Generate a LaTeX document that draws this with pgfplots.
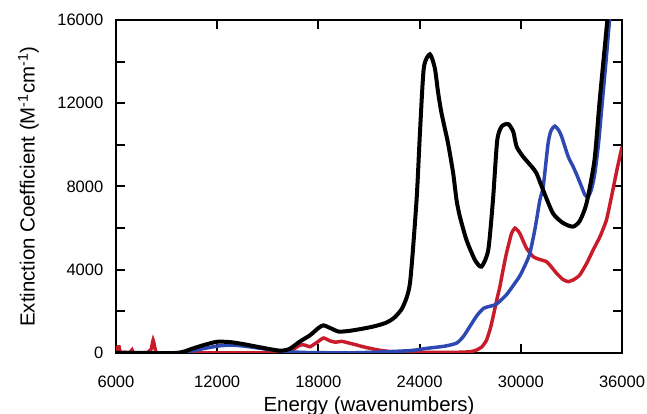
\documentclass[border=0pt]{standalone}
\usepackage{pgfplots}
\pgfplotsset{compat=1.18}
\usepackage{fontspec}
\setmainfont{Liberation Sans}
\definecolor{cblue}{RGB}{45,72,178}
\definecolor{cred}{RGB}{200,28,42}
\begin{document}
\begin{tikzpicture}[x=0.75pt,y=0.75pt]
\useasboundingbox (-116,-61) rectangle (531,353);
\begin{axis}[
  at={(0,0)}, anchor=south west,
  scale only axis, width=379.5pt, height=249.75pt,
  xmin=6000, xmax=36000, ymin=0, ymax=16000,
  xtick={6000,12000,...,36000},
  ytick={0,4000,...,16000},
  minor ytick={2000,6000,...,14000},
  scaled ticks=false,
  tick align=inside,
  major tick length=6.75pt, minor tick length=6.75pt,
  axis line style={line width=1.5pt},
  every tick/.style={line width=1.5pt, black},
  tick label style={font=\fontsize{12.4}{14}\selectfont},
  /pgf/number format/assume math mode=true,
  /pgf/number format/1000 sep={},
  xticklabel style={yshift=-14pt},
  yticklabel style={xshift=-6pt},
  label style={font=\fontsize{15.3}{18}\selectfont},
  xlabel={Energy (wavenumbers)},
  ylabel={Extinction Coefficient (M\textsuperscript{-1}cm\textsuperscript{-1})},
  xlabel style={at={(axis description cs:0.5,0)}, anchor=center, yshift=-40pt},
  ylabel style={at={(axis description cs:-0.173,0.5)}, anchor=center},
  clip=true,
]
% red
\addplot[cred, line width=2.6pt, smooth, tension=0.3] coordinates {
(6000,0)(6080,260)(6180,300)(6260,20)(6500,40)(6800,10)(6950,150)(7050,10)(7800,0)(8080,180)(8200,620)(8320,200)(8450,0)
(10000,0)(15500,10)(16000,40)(16400,120)(16900,380)(17200,380)(17500,300)(17900,500)(18300,720)(18700,580)(19000,520)(19400,560)(19700,500)(20200,400)(20650,300)(21200,200)(21650,130)(22400,60)(24000,30)(26000,30)(27000,60)(27400,150)(27700,300)(27970,620)(28200,1200)(28360,1750)(28560,2500)(28760,3190)(28950,4000)(29150,4790)(29450,5750)(29650,6000)(29800,5900)(29940,5750)(30340,5030)(30730,4630)(31100,4500)(31520,4390)(31800,4150)(32120,3830)(32500,3530)(32810,3430)(33150,3530)(33500,3750)(33900,4300)(34290,4950)(34700,5600)(35080,6400)(35400,7600)(35700,8800)(36000,9900)
};
% blue
\addplot[cblue, line width=2.6pt, smooth, tension=0.4] coordinates {
(6000,0)(9500,0)(10300,60)(11000,180)(12000,330)(12800,380)(13600,330)(14500,230)(15500,120)(16500,50)(17500,20)(20000,10)(22000,60)(23500,120)(24400,220)(25500,330)(26200,480)(26600,800)(27000,1300)(27400,1800)(27800,2150)(28200,2250)(28560,2350)(29150,2800)(29600,3300)(29940,3700)(30300,4300)(30540,4800)(30850,6000)(31130,7350)(31330,8000)(31620,10080)(31800,10700)(32020,10900)(32250,10700)(32420,10400)(32810,9440)(33100,8960)(33350,8500)(33600,8000)(33800,7600)(33990,7500)(34200,7900)(34390,8640)(34600,10000)(34790,11680)(35050,14000)(35300,16400)
};
% black
\addplot[black, line width=3pt, smooth, tension=0.4] coordinates {
(6000,0)(8000,0)(9500,0)(10000,60)(10500,200)(11200,380)(12000,540)(12800,520)(13600,420)(14500,280)(15300,160)(15800,110)(16300,200)(16900,550)(17500,850)(18000,1200)(18300,1330)(18700,1200)(19200,1030)(19800,1060)(20500,1150)(21300,1280)(22000,1450)(22500,1700)(23000,2200)(23430,3360)(23820,7350)(24020,10570)(24250,13700)(24610,14350)(24900,13700)(25100,12500)(25300,11520)(25680,10100)(25990,8640)(26190,7350)(26390,6550)(26780,5430)(27280,4470)(27670,4150)(28070,4950)(28350,7350)(28600,10200)(28860,10880)(29250,11000)(29550,10640)(29750,9920)(30130,9440)(30640,8960)(30930,8640)(31240,8000)(31900,6720)(32500,6250)(33090,6070)(33500,6350)(33900,7200)(34370,9280)(34680,12160)(35180,16400)
};
\end{axis}
\end{tikzpicture}
\end{document}
